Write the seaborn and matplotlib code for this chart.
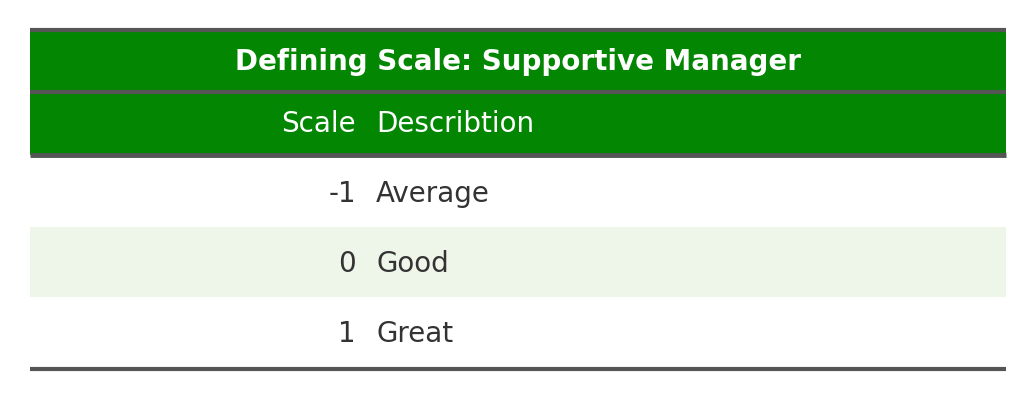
import matplotlib.pyplot as plt
import seaborn as sns

title = "Defining Scale: Supportive Manager"
columns = ["Scale", "Describtion"]
scale_values = [-1, 0, 1]
descriptions = ["Average", "Good", "Great"]

sns.set_theme(style="white")
plt.rcParams['font.family'] = 'sans-serif'
plt.rcParams['font.sans-serif'] = ['DejaVu Sans']

green = "#038703"
stripe = "#eef5e9"
rule = "#555555"
body = "#333333"

fig = plt.figure(figsize=(10.36, 4.0), dpi=100)
ax = fig.add_axes([0, 0, 1, 1])
ax.set_xlim(0, 1036)
ax.set_ylim(400, 0)
ax.axis("off")

left, right = 30, 1006
col_split = 366
top = 30
band = 62
row_h = 70
fs = 20

# title band and header band
ax.fill_between([left, right], top, top + band, color=green, lw=0)
ax.fill_between([left, right], top + band, top + 2 * band + 1, color=green, lw=0)
ax.text((left + right) / 2, top + band / 2 + 1, title, color="white", fontsize=fs,
        fontweight="bold", ha="center", va="center")
hy = top + band + band / 2 + 1
ax.text(col_split - 10, hy, columns[0], color="white", fontsize=fs, ha="right", va="center")
ax.text(col_split + 10, hy, columns[1], color="white", fontsize=fs, ha="left", va="center")

body_top = top + 2 * band + 3
for i, (s, d) in enumerate(zip(scale_values, descriptions)):
    y0 = body_top + i * row_h
    if i % 2 == 1:
        ax.fill_between([left, right], y0, y0 + row_h, color=stripe, lw=0)
    cy = y0 + row_h / 2 + 2
    ax.text(col_split - 10, cy, str(s), color=body, fontsize=fs, ha="right", va="center")
    ax.text(col_split + 10, cy, d, color=body, fontsize=fs, ha="left", va="center")

ax.hlines([top], left, right, color=rule, lw=3)
ax.hlines([top + band], left, right, color=rule, lw=3)
ax.hlines([top + 2 * band + 1], left, right, color=rule, lw=3.5)
ax.hlines([body_top + len(scale_values) * row_h + 2], left, right, color=rule, lw=3)

fig.savefig("out.png", dpi=100)
